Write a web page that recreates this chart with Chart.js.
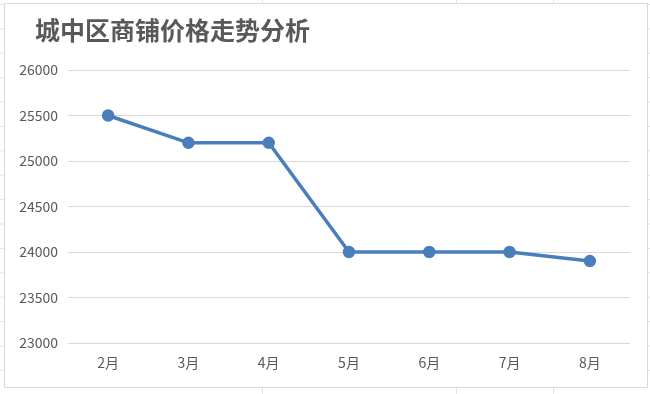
<!DOCTYPE html>
<html>
<head>
<meta charset="utf-8">
<script src="https://cdn.jsdelivr.net/npm/chart.js@4"></script>
<style>
  html, body { margin: 0; padding: 0; }
  body {
    width: 650px; height: 394px; overflow: hidden; position: relative;
    background-color: #fff;
    background-image:
      linear-gradient(to right, #e3e3e3 1px, transparent 1px),
      linear-gradient(to bottom, #e3e3e3 1px, transparent 1px);
    background-size: 97px 24.4px;
    background-position: 68px 4px;
  }
  #frame {
    position: absolute; left: 4px; top: 3px; width: 642px; height: 383px;
    background: #fff; border: 1px solid #d9d9d9;
  }
  canvas { display: block; }
</style>
</head>
<body>
<div id="frame"><canvas id="myChart" width="642" height="383"></canvas></div>
<script>
const chartTitle = '城中区商铺价格走势分析'
const months = ['2月', '3月', '4月', '5月', '6月', '7月', '8月']
const prices = [25500, 25200, 25200, 24000, 24000, 24000, 23900]
const yMin = 23000
const yMax = 26000
const yStep = 500

// title drawn by hand so it can sit left of the y axis labels
const titlePlugin = {
    id: 'sheetTitle',
    afterDraw(chart) {
        const c = chart.ctx
        c.save()
        c.font = 'bold 25px "Noto Sans CJK SC"'
        c.fillStyle = '#595959'
        c.textBaseline = 'middle'
        c.textAlign = 'left'
        c.fillText(chartTitle, 30, 26)
        c.restore()
    }
}

document.addEventListener('DOMContentLoaded', function () {
    const ctx = document.getElementById('myChart').getContext('2d');
    const chart = new Chart(ctx, {
        type: 'line',
        data: {
            labels: months,
            datasets: [{
                data: prices,
                borderColor: '#4a7ebb',
                backgroundColor: '#4a7ebb',
                borderWidth: 3.5,
                pointRadius: 4.5,
                pointHoverRadius: 4.5,
                tension: 0
            }]
        },
        options: {
            responsive: false,
            animation: false,
            layout: { padding: { left: 0, right: 17, top: 66, bottom: 0 } },
            plugins: {
                legend: { display: false },
                tooltip: { enabled: false },
                title: { display: false }
            },
            scales: {
                x: {
                    offset: true,
                    grid: { display: false, drawTicks: false },
                    border: { display: false },
                    ticks: {
                        color: '#595959',
                        padding: 11,
                        font: { family: '"Noto Sans CJK SC"', size: 14 }
                    },
                    afterFit: s => { s.height = 44 }
                },
                y: {
                    min: yMin,
                    max: yMax,
                    grid: { color: '#d9d9d9', lineWidth: 1, drawTicks: false },
                    border: { display: false },
                    ticks: {
                        stepSize: yStep,
                        color: '#595959',
                        padding: 10,
                        font: { family: '"Noto Sans CJK SC"', size: 14 },
                        callback: v => String(v)
                    },
                    afterFit: s => { s.width = 63 }
                }
            }
        },
        plugins: [titlePlugin]
    });
});
</script>
</body>
</html>
